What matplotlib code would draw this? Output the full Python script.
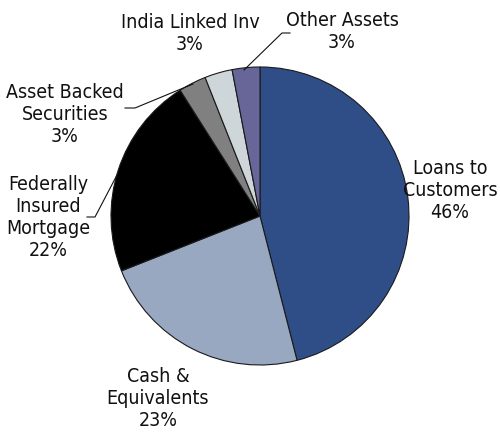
import matplotlib
matplotlib.use("Agg")
import matplotlib.pyplot as plt

categories = ["Loans to\nCustomers", "Cash &\nEquivalents", "Federally\nInsured\nMortgage",
              "Asset Backed\nSecurities", "India Linked Inv", "Other Assets"]
values = [46, 23, 22, 3, 3, 3]
colors = ["#2F4E88", "#98A8C0", "#000000", "#808080", "#CFD6DA", "#686598"]

plt.rcParams['font.family'] = ['DejaVu Sans']

W, H = 500, 432
fig = plt.figure(figsize=(W / 100, H / 100), dpi=100)
ax = fig.add_axes([0, 0, 1, 1])
ax.set_xlim(0, W)
ax.set_ylim(0, H)
ax.axis('off')

def P(x, y):
    return (x, H - y)

ax.pie(values, colors=colors, startangle=90, counterclock=False,
       center=P(260, 216), radius=149,
       wedgeprops=dict(edgecolor="#1a1a1a", linewidth=0.8))
ax.set_xlim(0, W)
ax.set_ylim(0, H)
ax.set_aspect('equal')

label_pos = [(450, 190), (158, 399), (48, 217), (65, 114), (190, 33), (342, 32)]
for cat, v, (x, y) in zip(categories, values, label_pos):
    ax.text(*P(x, y), f"{cat}\n{v}%", ha='center', va='center', fontsize=14,
            fontstretch='condensed', linespacing=1.2, color="#111111")

leaders = [
    [(244, 70), (282, 33), (290, 33)],
    [(125, 108), (135, 108), (193, 84)],
    [(87, 217), (95, 217), (117, 175)],
]
for pts in leaders:
    xs = [p[0] for p in pts]
    ys = [H - p[1] for p in pts]
    ax.plot(xs, ys, color="#111111", linewidth=0.8)

fig.savefig("out.png", dpi=100)
